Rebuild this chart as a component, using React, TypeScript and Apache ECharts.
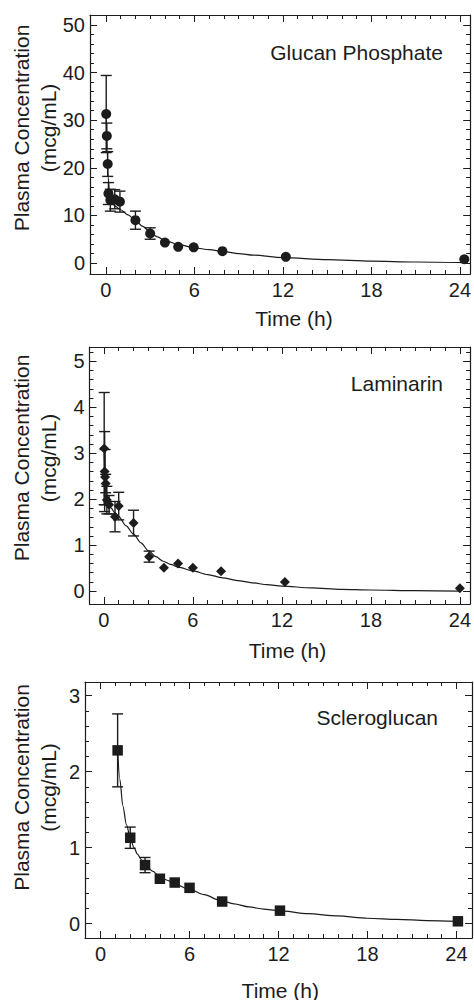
import React, { useEffect, useRef } from "react";
import * as echarts from "echarts";

// ---------- Data ----------
// Glucan Phosphate
const glucanTimes = [0.02, 0.06, 0.12, 0.17, 0.3, 0.6, 0.95, 2, 3, 4, 4.9, 5.95, 7.9, 12.2, 24.3];
const glucanMean = [31.3, 26.7, 20.8, 14.6, 13.2, 13.4, 12.9, 9.0, 6.2, 4.3, 3.4, 3.3, 2.5, 1.3, 0.8];
const glucanSD = [8.1, 2.7, 2.6, 2.3, 2.3, 2.0, 2.2, 1.9, 1.2, 0, 0, 0, 0, 0, 0];
const glucanFitT = [0.02, 0.08, 0.15, 0.25, 0.4, 0.6, 1, 1.5, 2, 2.5, 3, 3.5, 4, 5, 6, 7, 8, 9, 10, 12, 15, 18, 21, 24.3];
const glucanFitV = [31, 24, 18, 14.5, 12.8, 12.0, 11.2, 10.1, 9.0, 7.7, 6.5, 5.5, 4.7, 3.8, 3.2, 2.8, 2.4, 2.0, 1.65, 1.15, 0.7, 0.42, 0.22, 0.08];

// Laminarin
const lamTimes = [0.02, 0.05, 0.08, 0.12, 0.2, 0.35, 0.75, 1.0, 2, 3.05, 4.05, 5, 6, 7.9, 12.2, 24];
const lamMean = [3.1, 2.6, 2.48, 2.34, 1.98, 1.88, 1.62, 1.85, 1.48, 0.75, 0.51, 0.6, 0.51, 0.43, 0.2, 0.06];
const lamSD = [1.22, 0.87, 0.6, 0.2, 0.3, 0.2, 0.33, 0.3, 0.28, 0.12, 0, 0, 0, 0, 0, 0];
const lamFitT = [0.02, 0.1, 0.2, 0.35, 0.5, 0.75, 1, 1.5, 2, 2.5, 3, 3.5, 4, 4.5, 5, 6, 7, 8, 9, 10, 11, 12, 14, 16, 18, 21, 24];
const lamFitV = [3.0, 2.45, 2.1, 1.9, 1.8, 1.7, 1.62, 1.42, 1.24, 1.05, 0.88, 0.75, 0.65, 0.58, 0.52, 0.44, 0.36, 0.29, 0.23, 0.18, 0.14, 0.11, 0.07, 0.04, 0.025, 0.01, 0.0];

// Scleroglucan
const scleroTimes = [1.15, 2, 3, 4, 5, 6, 8.2, 12.1, 24.1];
const scleroMean = [2.28, 1.13, 0.77, 0.59, 0.54, 0.47, 0.29, 0.17, 0.03];
const scleroSD = [0.48, 0.14, 0.1, 0, 0, 0, 0, 0, 0];
const scleroFitT = [1.15, 1.3, 1.5, 1.75, 2, 2.25, 2.5, 2.75, 3, 3.5, 4, 4.5, 5, 6, 7, 8, 9, 10, 11, 12, 14, 16, 18, 20, 22, 24.1];
const scleroFitV = [2.28, 1.9, 1.55, 1.3, 1.13, 1.0, 0.91, 0.84, 0.78, 0.69, 0.62, 0.57, 0.52, 0.45, 0.38, 0.31, 0.26, 0.22, 0.19, 0.17, 0.13, 0.1, 0.07, 0.055, 0.04, 0.03];

// Ticks
const xMajorTicks = [0, 6, 12, 18, 24];
const xMinorTicks = [1, 2, 3, 4, 5, 7, 8, 9, 10, 11, 13, 14, 15, 16, 17, 19, 20, 21, 22, 23];
const glucanYMajor = [0, 10, 20, 30, 40, 50];
const lamYMajor = [0, 1, 2, 3, 4, 5];
const scleroYMajor = [0, 1, 2, 3];

const titles = ["Glucan Phosphate", "Laminarin", "Scleroglucan"];
const yTitle = "Plasma Concentration\n(mcg/mL)";
const xTitle = "Time (h)";

// ---------- Helpers ----------
const FONT = '"Liberation Sans", Arial, Helvetica, sans-serif';
const INK = "#1c1c1c";

function minorRange(max: number, step: number): number[] {
  const out: number[] = [];
  const n = Math.round(max / step);
  for (let i = 0; i <= n; i++) out.push(Math.round(i * step * 1000) / 1000);
  return out;
}

function zip(a: number[], b: number[]) {
  return a.map((v, i) => [v, b[i]]);
}

function errData(t: number[], m: number[], sd: number[]) {
  return t.map((v, i) => [v, m[i] - sd[i], m[i] + sd[i]]).filter((_, i) => sd[i] > 0);
}

export default function App() {
  const ref = useRef<HTMLDivElement>(null);

  useEffect(() => {
    if (!ref.current) return;
    const chart = echarts.init(ref.current, null, { renderer: "svg" });

    const panels = [
      {
        grid: { left: 90, top: 15, width: 383, height: 259 },
        x: [-1.08, 24.7],
        y: [-2.3, 52.1],
        yMajor: glucanYMajor,
        yMinor: minorRange(52, 2),
        times: glucanTimes, mean: glucanMean, sd: glucanSD,
        fitT: glucanFitT, fitV: glucanFitV,
        symbol: "circle", symbolSize: 10,
      },
      {
        grid: { left: 89.5, top: 347, width: 384, height: 257 },
        x: [-0.97, 24.69],
        y: [-0.28, 5.31],
        yMajor: lamYMajor,
        yMinor: minorRange(5.2, 0.2),
        times: lamTimes, mean: lamMean, sd: lamSD,
        fitT: lamFitT, fitV: lamFitV,
        symbol: "diamond", symbolSize: 10,
      },
      {
        grid: { left: 85, top: 682, width: 387, height: 256 },
        x: [-1.05, 25.05],
        y: [-0.19, 3.18],
        yMajor: scleroYMajor,
        yMinor: minorRange(3.0, 0.2),
        times: scleroTimes, mean: scleroMean, sd: scleroSD,
        fitT: scleroFitT, fitV: scleroFitV,
        symbol: "rect", symbolSize: 10.5,
      },
    ];

    const grids: any[] = [];
    const xAxes: any[] = [];
    const yAxes: any[] = [];
    const series: any[] = [];

    panels.forEach((p, g) => {
      grids.push({ ...p.grid, containLabel: false });
      const axisLine = { show: true, onZero: false, lineStyle: { color: INK, width: 1.2 } };
      const mk = (position: string, major: boolean, labels: boolean, vals: number[], min: number, max: number, isX: boolean) => ({
        type: "value",
        gridIndex: g,
        position,
        min,
        max,
        axisLine: major ? axisLine : { show: false, onZero: false },
        splitLine: { show: false },
        axisTick: {
          show: true,
          inside: true,
          length: major ? 7 : 4,
          customValues: vals,
          lineStyle: { color: INK, width: 1 },
        },
        axisLabel: labels
          ? {
              show: true,
              customValues: vals,
              fontFamily: FONT,
              fontSize: 20,
              color: INK,
              margin: isX ? 6 : 5,
            }
          : { show: false },
      });
      xAxes.push(mk("bottom", true, true, xMajorTicks, p.x[0], p.x[1], true));
      xAxes.push(mk("bottom", false, false, xMinorTicks, p.x[0], p.x[1], true));
      xAxes.push(mk("top", true, false, xMajorTicks, p.x[0], p.x[1], true));
      xAxes.push(mk("top", false, false, xMinorTicks, p.x[0], p.x[1], true));
      yAxes.push(mk("left", true, true, p.yMajor, p.y[0], p.y[1], false));
      yAxes.push(mk("left", false, false, p.yMinor, p.y[0], p.y[1], false));
      yAxes.push(mk("right", true, false, p.yMajor, p.y[0], p.y[1], false));
      yAxes.push(mk("right", false, false, p.yMinor, p.y[0], p.y[1], false));

      const xi = 4 * g;
      const yi = 4 * g;
      series.push({
        type: "line",
        xAxisIndex: xi,
        yAxisIndex: yi,
        data: zip(p.fitT, p.fitV),
        smooth: 0.3,
        smoothMonotone: "x",
        showSymbol: false,
        symbol: "none",
        lineStyle: { color: INK, width: 1.2 },
        z: 2,
      });
      series.push({
        type: "custom",
        xAxisIndex: xi,
        yAxisIndex: yi,
        data: errData(p.times, p.mean, p.sd),
        z: 3,
        renderItem: (params: any, api: any) => {
          const x = api.value(0);
          const top = api.coord([x, api.value(2)]);
          const bot = api.coord([x, api.value(1)]);
          const hw = 5.5;
          const st = { stroke: INK, lineWidth: 1.4 };
          return {
            type: "group",
            children: [
              { type: "line", shape: { x1: top[0], y1: top[1], x2: bot[0], y2: bot[1] }, style: st },
              { type: "line", shape: { x1: top[0] - hw, y1: top[1], x2: top[0] + hw, y2: top[1] }, style: st },
              { type: "line", shape: { x1: bot[0] - hw, y1: bot[1], x2: bot[0] + hw, y2: bot[1] }, style: st },
            ],
          };
        },
      });
      series.push({
        type: "scatter",
        xAxisIndex: xi,
        yAxisIndex: yi,
        data: zip(p.times, p.mean),
        symbol: p.symbol,
        symbolSize: p.symbolSize,
        itemStyle: { color: INK, opacity: 1 },
        z: 4,
      });
    });

    const titlePos = [
      [443, 52],
      [443, 383],
      [438, 717],
    ];
    const yTitlePos = [
      [34.5, 128],
      [34.5, 458],
      [34.5, 787.5],
    ];
    const xTitlePos = [
      [294, 318],
      [287.5, 650],
      [280.3, 990],
    ];

    const graphic: any[] = [];
    titles.forEach((t, i) => {
      graphic.push({
        type: "text",
        x: titlePos[i][0],
        y: titlePos[i][1],
        style: { text: t, font: `21px ${FONT}`, fill: INK, textAlign: "right", textVerticalAlign: "middle" },
      });
      graphic.push({
        type: "text",
        x: yTitlePos[i][0],
        y: yTitlePos[i][1],
        rotation: Math.PI / 2,
        style: {
          text: yTitle,
          font: `21px ${FONT}`,
          fill: INK,
          textAlign: "center",
          textVerticalAlign: "middle",
          lineHeight: 27,
        },
      });
      graphic.push({
        type: "text",
        x: xTitlePos[i][0],
        y: xTitlePos[i][1],
        style: { text: xTitle, font: `21px ${FONT}`, fill: INK, textAlign: "center", textVerticalAlign: "middle" },
      });
    });

    chart.setOption({
      animation: false,
      backgroundColor: "#ffffff",
      grid: grids,
      xAxis: xAxes,
      yAxis: yAxes,
      series,
      graphic,
    });

    return () => chart.dispose();
  }, []);

  return (
    <div
      ref={ref}
      style={{ position: "absolute", left: 0, top: 0, width: 474, height: 1000, background: "#fff" }}
    />
  );
}
